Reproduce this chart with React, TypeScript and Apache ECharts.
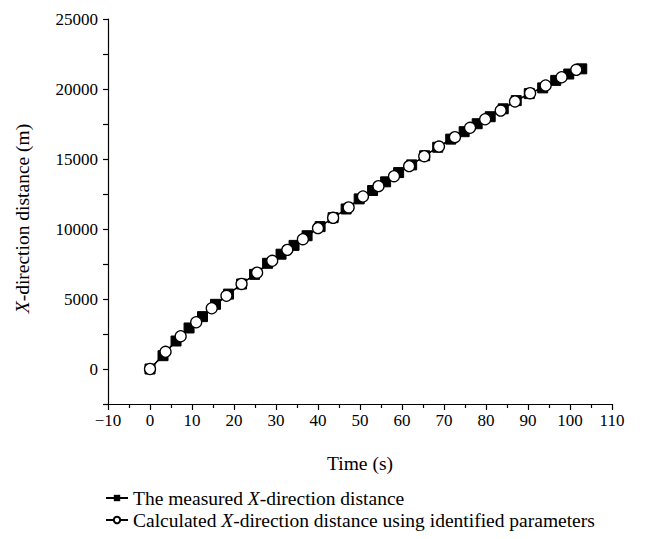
import React, { useEffect, useRef } from "react";
import * as echarts from "echarts";

// Measured X-direction distance (black squares)
const measuredTime = [
  0, 3.1, 6.2, 9.3, 12.5, 15.6, 18.7, 21.8, 24.9, 28.0, 31.2, 34.3, 37.4, 40.5, 43.6, 46.7, 49.8,
  53.0, 56.1, 59.2, 62.3, 65.4, 68.5, 71.6, 74.8, 77.9, 81.0, 84.1, 87.2, 90.3, 93.5, 96.6, 99.7, 102.8,
];
const measuredDist = [
  0, 950, 2000, 2930, 3740, 4620, 5350, 6070, 6760, 7550, 8200, 8830, 9520, 10170, 10810, 11430, 12150,
  12750, 13370, 14030, 14580, 15230, 15840, 16420, 16950, 17520, 18020, 18585, 19170, 19670, 20080, 20615, 21070, 21440,
];

// Calculated X-direction distance using identified parameters (open circles)
const calcTime = [
  0, 3.7, 7.3, 11.0, 14.7, 18.2, 21.8, 25.5, 29.1, 32.7, 36.4, 40.0, 43.6, 47.3, 50.7,
  54.4, 58.1, 61.7, 65.3, 68.8, 72.6, 76.2, 79.8, 83.5, 86.9, 90.5, 94.2, 98.0, 101.5,
];
const calcDist = [
  0, 1230, 2340, 3340, 4340, 5230, 6075, 6880, 7730, 8510, 9270, 10060, 10800, 11540, 12320,
  13060, 13770, 14490, 15200, 15890, 16560, 17230, 17840, 18460, 19110, 19700, 20250, 20840, 21370,
];

const xTicks = { min: -10, max: 110, interval: 10 };
const yTicks = { min: -2500, max: 25000, interval: 2500, labelStep: 5000 };

const FONT = "Liberation Serif";

export default function App() {
  const ref = useRef<HTMLDivElement>(null);
  useEffect(() => {
    if (!ref.current) return;
    const chart = echarts.init(ref.current, undefined, { renderer: "svg" });
    const measured = measuredTime.map((t, i) => [t, measuredDist[i]]);
    const calc = calcTime.map((t, i) => [t, calcDist[i]]);
    const rich = {
      n: { fontFamily: FONT, fontSize: 19.5, color: "#000" },
      i: { fontFamily: FONT, fontSize: 19.5, color: "#000", fontStyle: "italic" },
    };
    chart.setOption({
      animation: false,
      backgroundColor: "#fff",
      grid: { left: 108, right: 56, top: 19, bottom: 135, containLabel: false },
      xAxis: {
        type: "value",
        min: xTicks.min,
        max: xTicks.max,
        interval: xTicks.interval,
        name: "Time (s)",
        nameLocation: "middle",
        nameGap: 49,
        nameTextStyle: { fontFamily: FONT, fontSize: 19.5, color: "#000" },
        axisLine: { show: true, onZero: false, lineStyle: { color: "#000", width: 1.2 } },
        axisTick: { show: true, inside: false, length: 6, lineStyle: { color: "#000", width: 1.2 } },
        minorTick: { show: true, splitNumber: 2, length: 4, lineStyle: { color: "#000", width: 1.2 } },
        splitLine: { show: false },
        axisLabel: {
          fontFamily: FONT,
          fontSize: 17,
          color: "#000",
          margin: 8,
          formatter: (v: number) => (v < 0 ? "\u2212" + Math.abs(v) : String(v)),
        },
      },
      yAxis: {
        type: "value",
        min: yTicks.min,
        max: yTicks.max,
        interval: yTicks.interval,
        name: "{i|X}{n|-direction distance (m)}",
        nameLocation: "middle",
        nameGap: 76,
        nameRotate: 90,
        nameTextStyle: { rich, padding: [0, 14, 0, 0] },
        axisLine: { show: true, onZero: false, lineStyle: { color: "#000", width: 1.2 } },
        axisTick: { show: true, inside: false, length: 5, lineStyle: { color: "#000", width: 1.2 } },
        splitLine: { show: false },
        axisLabel: {
          fontFamily: FONT,
          fontSize: 17,
          color: "#000",
          margin: 10,
          formatter: (v: number) => (v % yTicks.labelStep === 0 ? String(v) : ""),
        },
      },
      legend: {
        orient: "vertical",
        left: 100,
        top: 483,
        itemWidth: 22,
        itemHeight: 8,
        itemGap: 2,
        textStyle: { rich, fontFamily: FONT, fontSize: 19.5, color: "#000" },
        formatter: (name: string) =>
          name === "m"
            ? "{n|The measured }{i|X}{n|-direction distance}"
            : "{n|Calculated }{i|X}{n|-direction distance using identified parameters}",
        data: ["m", "c"],
      },
      series: [
        {
          name: "m",
          type: "line",
          data: measured,
          symbol: "rect",
          symbolSize: 10,
          itemStyle: { color: "#000", borderColor: "#000" },
          lineStyle: { color: "#000", width: 1.2 },
          z: 2,
        },
        {
          name: "c",
          type: "line",
          data: calc,
          symbol: "circle",
          symbolSize: 11,
          showAllSymbol: true,
          itemStyle: { color: "#fff", borderColor: "#000", borderWidth: 1.3 },
          lineStyle: { color: "#000", width: 1.2 },
          z: 3,
        },
      ],
    });
    return () => chart.dispose();
  }, []);
  return <div ref={ref} style={{ width: 668, height: 539, margin: -8 }} />;
}
